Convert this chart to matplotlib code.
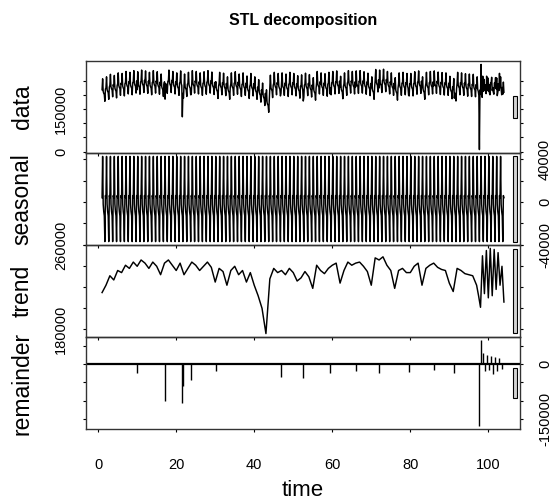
import numpy as np
import matplotlib
matplotlib.use("Agg")
import matplotlib.pyplot as plt
from matplotlib.patches import Rectangle

plt.rcParams['font.family'] = ['Liberation Sans', 'DejaVu Sans']

# seasonal component, one value per day of the weekly cycle
seasonal_week = [4000, 42600, -2000, -9000, -13000, -37000, 6000]

# trend (time units), finer at the end where it swings
trend_t = list(range(1, 98)) + [97.5, 98, 98.5, 99, 99.5, 100, 100.5, 101,
                                 101.5, 102, 102.5, 103, 103.5, 104]
trend_v = [215000, 222000, 231000, 227000, 236000, 234000, 241000, 238000, 244000, 240000,
           246000, 243000, 238000, 244000, 240000, 232000, 243000, 246000, 241000, 236000,
           243000, 232000, 238000, 244000, 241000, 236000, 240000, 244000, 239000, 225000,
           238000, 235000, 222000, 236000, 240000, 232000, 236000, 225000, 234000, 222000,
           212000, 200000, 176000, 228000, 238000, 234000, 236000, 232000, 238000, 234000,
           226000, 229000, 235000, 230000, 219000, 241000, 236000, 233000, 238000, 241000,
           243000, 224000, 236000, 244000, 241000, 243000, 244000, 240000, 235000, 222000,
           248000, 246000, 249000, 241000, 236000, 219000, 236000, 238000, 234000, 234000,
           240000, 243000, 222000, 238000, 241000, 243000, 239000, 237000, 236000, 224000,
           216000, 238000, 236000, 233000, 232000, 231000, 222000,
           212000, 201000, 250000, 214000, 255000, 210000, 257000, 212000,
           256000, 218000, 253000, 222000, 240000, 206000]

# remainder spikes (time, value)
rem_t = [10.0, 17.2, 21.5, 21.9, 23.8, 30.2, 46.8, 52.6, 59.4, 66.0, 72.0, 79.6, 86.0,
         91.3, 97.7, 98.1, 98.6, 99.2, 99.6, 100.1, 100.7, 101.2, 101.7, 102.3, 102.8, 103.4]
rem_v = [-25000, -100000, -107000, -60000, -42000, -20000, -34000, -37000, -25000, -18000,
         -25000, -22000, -15000, -25000, -168000, 65000, 30000, -20000, 25000, -15000,
         22000, -28000, 20000, -18000, 18000, -12000]

labels = ["data", "seasonal", "trend", "remainder"]
y_ticks = [[0, 50000, 100000, 150000, 200000, 250000],
           [-40000, -20000, 0, 20000, 40000],
           [180000, 200000, 220000, 240000, 260000],
           [-150000, -100000, -50000, 0, 50000]]
y_shown = [[0, 150000], [-40000, 0, 40000], [180000, 260000], [-150000, 0]]
x_ticks = [0, 20, 40, 60, 80, 100]

n_days = 722
time = 1 + np.arange(n_days) / 7
seasonal = np.array(seasonal_week)[np.arange(n_days) % 7]
idx = np.searchsorted(trend_t, time, side='right') - 1
trend_daily = np.array(trend_v)[idx]
remainder = np.zeros(n_days)
remainder[np.round((np.array(rem_t) - 1) * 7).astype(int)] = rem_v
data = trend_daily + seasonal + remainder

series = [(time, data), (time, seasonal), (np.array(trend_t), np.array(trend_v)), (time, remainder)]
ranges = [s[1].max() - s[1].min() for s in series]
mx = min(ranges)

W, H = 549, 499
fig = plt.figure(figsize=(W / 100, H / 100), dpi=100)
left, right = 86 / W, 520 / W
top, bottom = 1 - 61 / H, 1 - 429 / H
h = (top - bottom) / 4

t0, t1 = time[0], time[-1]
xlim = (t0 - 0.04 * (t1 - t0), t1 + 0.04 * (t1 - t0))

for i, (tx, ty) in enumerate(series):
    ax = fig.add_axes([left, top - (i + 1) * h, right - left, h])
    ax.set_facecolor('none')
    if i < 3:
        ax.plot(tx, ty, color='black', lw=1.05)
    else:
        ax.vlines(tx, 0, ty, color='black', lw=1.0)
        ax.axhline(0, color='black', lw=1.6)
    lo, hi = ty.min(), ty.max()
    ax.set_ylim(lo - 0.04 * (hi - lo), hi + 0.04 * (hi - lo))
    ax.set_xlim(xlim)

    # range bar
    dx = (xlim[1] - xlim[0]) / 64
    mid = (lo + hi) / 2
    ax.add_patch(Rectangle((xlim[1] - dx, mid - mx / 2), 0.6 * dx, mx,
                           facecolor='#D3D3D3', edgecolor='black', lw=0.8, clip_on=False))

    for sp in ax.spines.values():
        sp.set_linewidth(1.0)
        sp.set_color('#333333')

    right_side = (i % 2 == 1)
    ax.set_yticks(y_ticks[i])
    ax.set_yticklabels([str(v) if v in y_shown[i] else '' for v in y_ticks[i]])
    ax.yaxis.set_ticks_position('both')
    ax.tick_params(axis='y', direction='out', length=2, width=0.8, labelsize=10.5,
                   labelrotation=90, pad=11, labelleft=not right_side, labelright=right_side)
    for lab in ax.get_yticklabels():
        lab.set_va('center')

    ax.set_xticks(x_ticks)
    ax.tick_params(axis='x', direction='out', length=2, width=0.8, labelsize=10.5,
                   pad=19, labelbottom=(i == 3))

    fig.text(22 / W, top - (i + 0.5) * h, labels[i], rotation=90, ha='center', va='center',
             fontsize=16.5)

fig.text((left + right) / 2, 1 - 20 / H, "STL decomposition", ha='center', va='center',
         fontsize=11.5, fontweight='bold')
fig.text((left + right) / 2, 1 - 491 / H, "time", ha='center', va='center', fontsize=16)

fig.savefig("out.png", dpi=100)
